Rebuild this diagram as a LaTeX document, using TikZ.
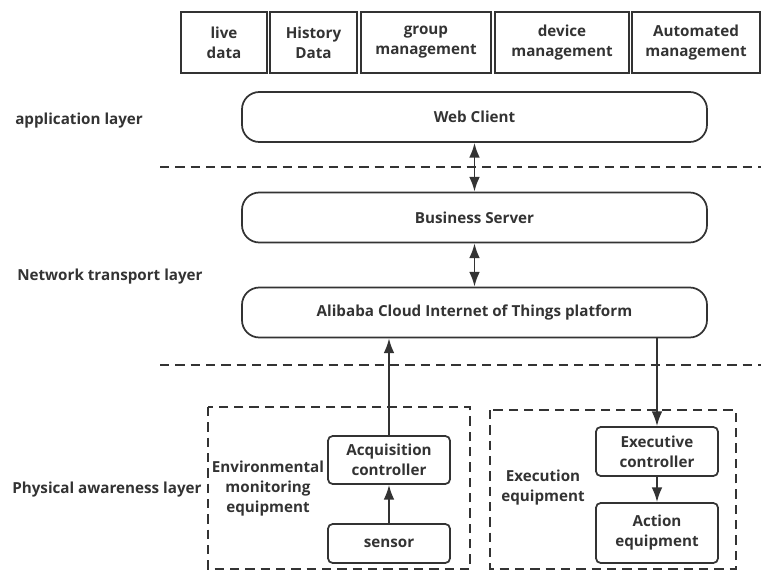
\documentclass[tikz,border=0pt]{standalone}
\usepackage{fontspec}
\usepackage{xcolor}
\setmainfont{Open Sans}
\usetikzlibrary{arrows.meta}

\definecolor{ink}{HTML}{333333}

\tikzset{
    funcbox/.style={draw=ink, line width=1.5pt, minimum height=45.75pt, align=center, inner sep=0pt},
    layerbox/.style={draw=ink, line width=1.3pt, rounded corners=13pt, minimum width=348.75pt, minimum height=37.5pt},
    devbox/.style={draw=ink, line width=1.3pt, rounded corners=3.5pt, minimum width=91.5pt, align=center, inner sep=0pt},
    layerlabel/.style={anchor=west, inner sep=0pt},
    grouplabel/.style={align=center, inner sep=0pt},
    sepline/.style={draw=ink, line width=1.3pt, dash pattern=on 7pt off 4.5pt},
    groupframe/.style={draw=ink, line width=1.3pt, dash pattern=on 7pt off 4.5pt},
    flow/.style={draw=ink, line width=1.4pt, -{Latex[length=11pt,width=8pt]}},
    twoway/.style={draw=ink, line width=1.4pt, {Latex[length=11pt,width=8pt]}-{Latex[length=11pt,width=8pt]}}
}

\begin{document}
\begin{tikzpicture}[x=0.75pt, y=-0.75pt, font=\fontsize{11.4}{15}\selectfont\bfseries, text=ink]

        \useasboundingbox (0,0) rectangle (761,571);

        % Functions of the web client
        \node[funcbox, minimum width=64.5pt] (live) at (224,42.5) {live\\data};
        \node[funcbox, minimum width=65.25pt] (hist) at (313.5,42.5) {History\\Data};
        \node[funcbox, minimum width=97.5pt] (grp) at (426,42.5) {group\\management};
        \node[funcbox, minimum width=100.5pt] (dev) at (562,42.5) {device\\management};
        \node[funcbox, minimum width=96pt] (auto) at (696,42.5) {Automated\\management};

        % Layers
        \node[layerbox] (web) at (474.5,117) {Web Client};
        \node[layerbox] (biz) at (474.5,217.5) {Business Server};
        \node[layerbox] (ali) at (474.5,312.5) {Alibaba Cloud Internet of Things platform};

        \node[layerlabel] (applab) at (15,121) {application layer};
        \node[layerlabel] (netlab) at (17,277) {Network transport layer};
        \node[layerlabel] (phylab) at (12,490) {Physical awareness layer};

        % Layer borders
        \coordinate (sepA1) at (160,167);
        \coordinate (sepA2) at (761,167);
        \coordinate (sepB1) at (160,365);
        \coordinate (sepB2) at (761,365);
        \draw[sepline] (sepA1) -- (sepA2);
        \draw[sepline] (sepB1) -- (sepB2);

        % Equipment groups
        \draw[groupframe] (208,407) rectangle (470,569);
        \draw[groupframe] (490,410) rectangle (736,569);
        \node[grouplabel] (envlab) at (268,489) {Environmental\\monitoring\\equipment};
        \node[grouplabel] (exelab) at (543,488) {Execution\\equipment};

        \node[devbox, minimum height=36pt] (acq) at (389,460) {Acquisition\\controller};
        \node[devbox, minimum height=29.25pt] (sensor) at (389,543.5) {sensor};
        \node[devbox, minimum height=36.75pt] (exe) at (657,451.5) {Executive\\controller};
        \node[devbox, minimum height=45pt] (act) at (657,533) {Action\\equipment};

        % Edges
        \draw[twoway] (web.south) -- (biz.north);
        \draw[twoway] (biz.south) -- (ali.north);
        \draw[flow] (acq.north) -- (acq.north |- ali.south);
        \draw[flow] (exe.north |- ali.south) -- (exe.north);
        \draw[flow] (sensor.north) -- (acq.south);
        \draw[flow] (exe.south) -- (act.north);

\end{tikzpicture}
\end{document}
